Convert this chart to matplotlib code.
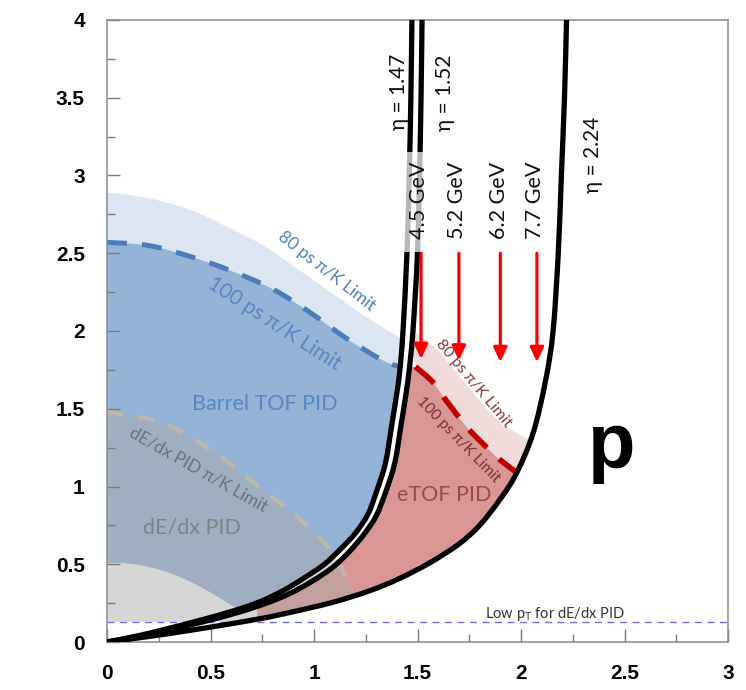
import numpy as np
import matplotlib
matplotlib.use('Agg')
import matplotlib.pyplot as plt
from matplotlib.patches import PathPatch, Rectangle
from matplotlib.path import Path

# ---------------- data ----------------
# eta acceptance curves (x: rapidity-like axis, y: pT)
eta147_x = [0, 0.15, 0.29, 0.45, 0.61, 0.74, 0.85, 0.95, 1.05, 1.13, 1.20, 1.26, 1.30, 1.345, 1.375, 1.40, 1.415, 1.43, 1.449, 1.46, 1.468, 1.473]
eta147_y = [0, 0.04, 0.085, 0.14, 0.20, 0.26, 0.33, 0.41, 0.50, 0.60, 0.70, 0.82, 0.96, 1.15, 1.39, 1.60, 1.75, 2.00, 2.50, 3.00, 3.50, 4.00]
eta152_x = [0, 0.15, 0.29, 0.45, 0.62, 0.76, 0.88, 0.99, 1.09, 1.17, 1.24, 1.30, 1.345, 1.39, 1.42, 1.445, 1.46, 1.478, 1.50, 1.51, 1.517, 1.522]
eta152_y = [0, 0.035, 0.075, 0.125, 0.185, 0.245, 0.31, 0.39, 0.48, 0.58, 0.69, 0.81, 0.96, 1.15, 1.39, 1.60, 1.75, 2.00, 2.50, 3.00, 3.50, 4.00]
eta224_x = [0, 0.20, 0.45, 0.74, 0.90, 1.09, 1.27, 1.415, 1.56, 1.70, 1.80, 1.90, 1.98, 2.06, 2.12, 2.155, 2.18, 2.195, 2.21, 2.22]
eta224_y = [0, 0.035, 0.085, 0.15, 0.195, 0.255, 0.33, 0.41, 0.51, 0.63, 0.75, 0.92, 1.09, 1.35, 1.69, 2.00, 2.50, 3.00, 3.50, 4.00]
eta_labels = ['η = 1.47', 'η = 1.52', 'η = 2.24']

# barrel TOF limits
tof80_x = [0, 0.18, 0.40, 0.594, 0.755, 0.92, 1.08, 1.24, 1.40, 1.45]
tof80_y = [2.89, 2.86, 2.78, 2.66, 2.55, 2.40, 2.25, 2.10, 1.97, 1.93]
tof100_x = [0, 0.20, 0.40, 0.594, 0.80, 0.98, 1.16, 1.335, 1.44]
tof100_y = [2.57, 2.55, 2.48, 2.39, 2.27, 2.12, 1.95, 1.81, 1.76]
tofmin_x = [0, 0.13, 0.29, 0.45, 0.61, 0.725]
tofmin_y = [0.51, 0.50, 0.45, 0.355, 0.23, 0.14]

# dE/dx limit
dedx_x = [0, 0.24, 0.40, 0.58, 0.77, 0.93, 1.08, 1.16, 1.18]
dedx_y = [1.48, 1.42, 1.32, 1.16, 0.96, 0.79, 0.59, 0.40, 0.335]

# eTOF limits
etof100_x = [1.49, 1.575, 1.64, 1.74, 1.82, 1.90, 1.98]
etof100_y = [1.77, 1.67, 1.55, 1.38, 1.27, 1.17, 1.09]
etof80_x = [1.45, 1.50, 1.60, 1.74, 1.82, 1.90, 1.97, 2.06]
etof80_y = [2.03, 1.98, 1.87, 1.65, 1.52, 1.41, 1.35, 1.29]
etof_min_x = 0.725

low_pt_y = 0.13

# beam energy arrows
energies = ['4.5 GeV', '5.2 GeV', '6.2 GeV', '7.7 GeV']
arrow_x = [1.517, 1.70, 1.90, 2.077]
arrow_start = 2.5
arrow_tip = [1.82, 1.81, 1.80, 1.80]

xticks = [0, 0.5, 1, 1.5, 2, 2.5, 3]
xticklabels = ['0', '0.5', '1', '1.5', '2', '2.5', '3']
yticks = [0, 0.5, 1, 1.5, 2, 2.5, 3, 3.5, 4]
yticklabels = ['0', '0.5', '1', '1.5', '2', '2.5', '3', '3.5', '4']

# ---------------- helpers: smooth Bezier paths through the read points ----------------
def smooth(xs, ys):
    P = np.column_stack([xs, ys]).astype(float)
    n = len(P)
    verts, codes = [P[0]], [Path.MOVETO]
    for i in range(n - 1):
        p0 = P[i - 1] if i > 0 else P[i]
        p3 = P[i + 2] if i + 2 < n else P[i + 1]
        c1 = P[i] + (P[i + 1] - p0) / 6.0
        c2 = P[i + 1] - (p3 - P[i]) / 6.0
        verts += [c1, c2, P[i + 1]]
        codes += [Path.CURVE4] * 3
    return verts, codes


def rev(xs, ys):
    return list(xs)[::-1], list(ys)[::-1]


def region(*pieces):
    """pieces: ('s', xs, ys) smooth piece or ('l', [(x,y),...]) straight piece"""
    verts, codes = [], []
    for pc in pieces:
        if pc[0] == 's':
            v, c = smooth(pc[1], pc[2])
            c = list(c)
            c[0] = Path.MOVETO if not verts else Path.LINETO
            verts += v
            codes += c
        else:
            for q in pc[1]:
                codes.append(Path.MOVETO if not verts else Path.LINETO)
                verts.append(q)
    verts.append(verts[0])
    codes.append(Path.CLOSEPOLY)
    return Path(np.array(verts, float), codes)


def curve(xs, ys):
    v, c = smooth(xs, ys)
    return Path(np.array(v, float), c)


# ---------------- figure ----------------
TXT = ['Lato', 'DejaVu Sans']
fig = plt.figure(figsize=(7.46, 6.90), dpi=100)
ax = fig.add_axes([107 / 746, 48 / 690, 621 / 746, 622 / 690])
ax.set_xlim(0, 3)
ax.set_ylim(0, 4)

corner = ('l', [(0, 4.0)])
left_of_147 = PathPatch(region(('s', eta147_x, eta147_y), corner), transform=ax.transData)
above_224 = PathPatch(region(('s', eta224_x, eta224_y), corner), transform=ax.transData)
between = PathPatch(region(('s', eta152_x, eta152_y), ('s',) + rev(eta224_x, eta224_y)),
                    transform=ax.transData)


def add_fill(path, color, clip, z, alpha=1.0):
    p = PathPatch(path, facecolor=color, edgecolor='none', alpha=alpha, zorder=z)
    ax.add_patch(p)
    p.set_clip_path(clip)
    return p


# light blue (80 ps)
add_fill(region(('s', tof80_x, tof80_y), ('s',) + rev(tof100_x, tof100_y)), '#dce6f2', left_of_147, 1.0)
# blue (100 ps)
add_fill(region(('s', tof100_x, tof100_y), ('l', [(1.6, 1.7), (1.6, low_pt_y)]),
                ('s',) + rev(tofmin_x, tofmin_y)), '#95b3d7', left_of_147, 1.1)
# eTOF pink (100 ps)
add_fill(region(('l', [(etof_min_x, low_pt_y), (etof_min_x, 1.77)]), ('s', etof100_x, etof100_y),
                ('l', [(2.3, 0.9), (2.3, low_pt_y)])), '#d99694', between, 1.1)
# eTOF light pink (80 ps)
add_fill(region(('s', etof80_x, etof80_y), ('l', [(2.3, 1.2), (2.3, 0.95)]),
                ('s',) + rev(etof100_x, etof100_y)), '#f2dcdb', between, 1.1)
# dE/dx gray overlay
add_fill(region(('s', dedx_x, dedx_y), ('l', [(1.21, 0.27), (1.3, low_pt_y), (0, low_pt_y)])),
         '#ababab', above_224, 1.3, alpha=0.48)

# low pT line
ax.axhline(low_pt_y, color='#6f6fe0', lw=1.0, ls=(0, (5, 4)), zorder=1.4)


def add_line(xs, ys, color, lw, ls, z, clip=None, alpha=1.0):
    p = PathPatch(curve(xs, ys), facecolor='none', edgecolor=color, lw=lw, ls=ls,
                  zorder=z, alpha=alpha, capstyle='butt')
    ax.add_patch(p)
    if clip is not None:
        p.set_clip_path(clip)
    return p


# dashed limits
add_line(tof100_x, tof100_y, '#4a7ebb', 3.6, (0, (4, 3)), 2, clip=left_of_147)
add_line(etof100_x, etof100_y, '#c00000', 4.0, (0, (4.5, 3)), 2)
add_line(dedx_x, dedx_y, '#c2b9a6', 3.0, (0, (4, 3.5)), 2, alpha=0.9)

# eta curves
for xs, ys in [(eta147_x, eta147_y), (eta152_x, eta152_y), (eta224_x, eta224_y)]:
    add_line(xs, ys, 'black', 3.8, '-', 3)

# grey band behind 4.5 GeV label
ax.add_patch(Rectangle((1.43, 2.51), 0.11, 0.64, facecolor='white', edgecolor='none',
                       alpha=0.72, zorder=3.1))

# arrows and energy labels
for x, tip, lab in zip(arrow_x, arrow_tip, energies):
    ax.annotate('', xy=(x, tip), xytext=(x, arrow_start),
                arrowprops=dict(arrowstyle='-|>,head_length=0.62,head_width=0.29',
                                color='#ff0000', lw=2.3, shrinkA=0, shrinkB=0,
                                mutation_scale=14), zorder=3.2)
    ax.text(x - 0.008, 2.84, lab, rotation=90, ha='center', va='center', fontsize=15.5,
            family=TXT, color='#111111', zorder=4)

# eta labels
ax.text(1.41, 3.54, eta_labels[0], rotation=90, ha='center', va='center', fontsize=15,
        family=TXT, color='#111111', zorder=4)
ax.text(1.635, 3.53, eta_labels[1], rotation=90, ha='center', va='center', fontsize=15,
        family=TXT, color='#111111', zorder=4)
ax.text(2.348, 3.135, eta_labels[2], rotation=90, ha='center', va='center', fontsize=15,
        family=TXT, color='#111111', zorder=4)

# region labels
kw = dict(ha='center', va='center', family=TXT, rotation_mode='anchor', zorder=4)
ax.text(1.063, 2.387, '80 ps π/K Limit', rotation=-38, fontsize=12.5, color='#4f81bd', **kw)
ax.text(0.81, 2.05, '100 ps π/K Limit', rotation=-33, fontsize=15, color='#5a86c2', **kw)
ax.text(0.763, 1.53, 'Barrel TOF PID', fontsize=15.5, color='#5a86c2', **kw)
ax.text(0.442, 1.106, 'dE/dx PID π/K Limit', rotation=-29.5, fontsize=12.5, color='#6e7076', **kw)
ax.text(0.408, 0.735, 'dE/dx PID', fontsize=15.5, color='#7e848c', **kw)
ax.text(1.77, 1.665, '80 ps π/K Limit', rotation=-50, fontsize=11.5, color='#8c3a3e', **kw)
ax.text(1.695, 1.30, '100 ps π/K Limit', rotation=-46, fontsize=11, color='#7e2e32', **kw)
ax.text(1.628, 0.948, 'eTOF PID', fontsize=15.5, color='#9a4a4c', **kw)
ax.text(2.165, 0.178, r'Low p$_\mathrm{T}$ for dE/dx PID', fontsize=10.5, color='#333333', **kw)
ax.text(2.44, 1.12, 'p', ha='center', va='baseline', fontsize=56, fontweight='bold',
        family='Liberation Sans', color='black', zorder=4)

# axes styling
for s in ax.spines.values():
    s.set_color('#8a8a8a')
    s.set_linewidth(1.1)
ax.set_xticks(xticks)
ax.set_xticklabels(xticklabels)
ax.set_yticks(yticks)
ax.set_yticklabels(yticklabels)
ax.set_xticks(np.arange(0.25, 3, 0.5), minor=True)
ax.set_yticks(np.arange(0.25, 4, 0.5), minor=True)
ax.tick_params(which='both', direction='in', color='#7a7a7a', width=1.0, top=False, right=False)
ax.tick_params(which='major', length=9.5, pad=16)
ax.tick_params(which='minor', length=5.5)
for lab in ax.get_xticklabels() + ax.get_yticklabels():
    lab.set_fontfamily('Liberation Sans')
    lab.set_fontweight('bold')
    lab.set_fontsize(15)

fig.savefig('out.png', dpi=100, facecolor='white')
